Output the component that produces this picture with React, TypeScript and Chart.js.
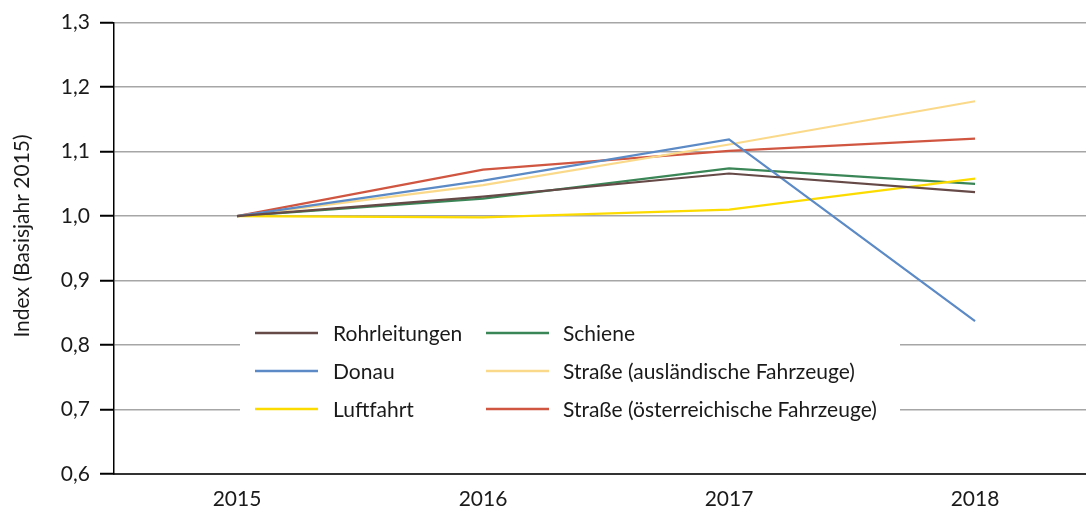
import React, { useEffect, useRef } from "react";
import { Chart, registerables } from "chart.js";

Chart.register(...registerables);

const years = [2015, 2016, 2017, 2018];
const seriesNames = [
  "Rohrleitungen",
  "Donau",
  "Luftfahrt",
  "Schiene",
  "Straße (ausländische Fahrzeuge)",
  "Straße (österreichische Fahrzeuge)",
];
const rohrleitungen = [1.0, 1.03, 1.066, 1.037];
const donau = [1.0, 1.055, 1.119, 0.837];
const luftfahrt = [1.0, 0.998, 1.01, 1.058];
const schiene = [1.0, 1.027, 1.074, 1.05];
const strasseAusl = [1.0, 1.048, 1.111, 1.178];
const strasseOest = [1.0, 1.072, 1.101, 1.12];
const colors = ["#654a48", "#5b8ac6", "#fcdc00", "#3b8656", "#fbd98a", "#d05641"];
const yTicks = [0.6, 0.7, 0.8, 0.9, 1.0, 1.1, 1.2, 1.3];
const yTitle = "Index (Basisjahr 2015)";

const FONT = "Lato, 'Noto Sans', sans-serif";
const FS = 21;

const legendPlugin = {
  id: "insideLegend",
  afterDatasetsDraw(chart: any) {
    const ctx = chart.ctx;
    ctx.save();
    ctx.fillStyle = "#ffffff";
    ctx.fillRect(240, 314, 660, 114);
    const cols = [
      { lx: 255, tx: 333 },
      { lx: 486, tx: 563 },
    ];
    const rows = [334, 372, 410];
    ctx.font = `${FS}px ${FONT}`;
    ctx.textBaseline = "middle";
    ctx.textAlign = "left";
    chart.data.datasets.forEach((ds: any, i: number) => {
      const c = cols[Math.floor(i / 3)];
      const y = rows[i % 3];
      ctx.strokeStyle = ds.borderColor;
      ctx.lineWidth = 2.5;
      ctx.beginPath();
      ctx.moveTo(c.lx, y - 1);
      ctx.lineTo(c.lx + 63, y - 1);
      ctx.stroke();
      ctx.fillStyle = "#1a1a1a";
      ctx.fillText(ds.label, c.tx, y);
    });
    // y-axis title
    ctx.translate(22, 236);
    ctx.rotate(-Math.PI / 2);
    ctx.textAlign = "center";
    ctx.fillText(yTitle, 0, 0);
    ctx.restore();
  },
};

export default function App() {
  const ref = useRef<HTMLCanvasElement>(null);
  useEffect(() => {
    const values = [rohrleitungen, donau, luftfahrt, schiene, strasseAusl, strasseOest];
    const chart = new Chart(ref.current as HTMLCanvasElement, {
      type: "line",
      data: {
        datasets: values.map((vals, i) => ({
          label: seriesNames[i],
          data: vals.map((v, j) => ({ x: years[j], y: v })),
          borderColor: colors[i],
          backgroundColor: colors[i],
          borderWidth: 2.2,
          pointRadius: 0,
          tension: 0,
          fill: false,
        })),
      },
      options: {
        animation: false,
        responsive: false,
        maintainAspectRatio: false,
        layout: { padding: { top: 18, right: 0, left: 0, bottom: 0 } },
        plugins: {
          legend: { display: false },
          tooltip: { enabled: false },
        },
        scales: {
          x: {
            type: "linear",
            min: 2014.5,
            max: 2018.451,
            afterBuildTicks: (scale: any) => {
              scale.ticks = years.map((v) => ({ value: v }));
            },
            afterFit: (scale: any) => {
              scale.height = 36;
            },
            grid: { display: false, drawTicks: false },
            border: { display: true, color: "#333333", width: 2 },
            ticks: {
              padding: 13,
              color: "#1a1a1a",
              font: { family: FONT, size: FS },
              callback: (v: any) => String(v),
            },
          },
          y: {
            type: "linear",
            min: 0.6,
            max: 1.3,
            afterBuildTicks: (scale: any) => {
              scale.ticks = yTicks.map((v) => ({ value: v }));
            },
            afterFit: (scale: any) => {
              scale.width = 114;
            },
            grid: {
              color: "#a6a6a6",
              lineWidth: 1.5,
              tickColor: "#000000",
              tickLength: 14,
              tickWidth: 2,
            },
            border: { display: true, color: "#000000", width: 1.5 },
            ticks: {
              padding: 10,
              color: "#1a1a1a",
              font: { family: FONT, size: FS },
              callback: (v: any) => Number(v).toFixed(1).replace(".", ","),
            },
            title: { display: false },
          },
        },
      },
      plugins: [legendPlugin],
    });
    return () => chart.destroy();
  }, []);
  return (
    <div style={{ position: "fixed", left: 0, top: 0, width: 1086, height: 510, background: "#fff" }}>
      <canvas ref={ref} width={1086} height={510} style={{ display: "block" }} />
    </div>
  );
}
